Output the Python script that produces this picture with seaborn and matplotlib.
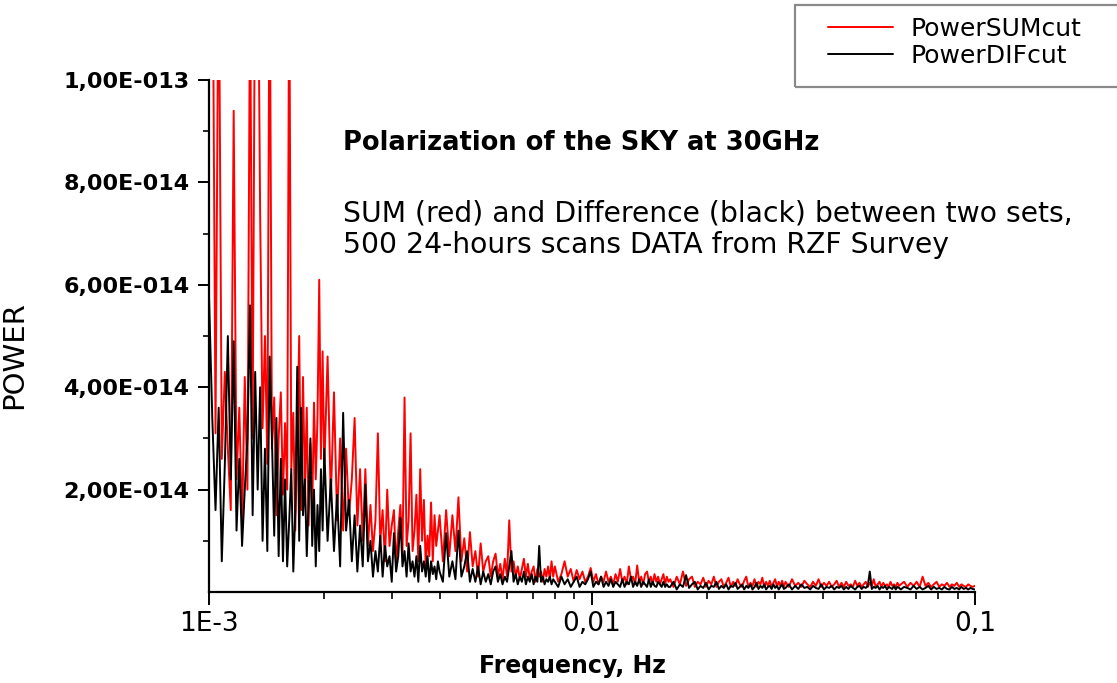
import matplotlib
matplotlib.use("Agg")
import matplotlib.pyplot as plt
from matplotlib.patches import Rectangle
from matplotlib.ticker import FuncFormatter, FixedLocator, LogLocator, NullFormatter
import numpy as np
import pandas as pd
import seaborn as sns

# Frequency bins (mHz) of the power spectra
FREQ_MHZ = [
    1.00, 1.02, 1.04, 1.06, 1.08, 1.10, 1.12, 1.14, 1.16, 1.18,
    1.20, 1.22, 1.24, 1.26, 1.28, 1.30, 1.32, 1.34, 1.36, 1.38,
    1.40, 1.42, 1.44, 1.46, 1.48, 1.50, 1.52, 1.54, 1.56, 1.58,
    1.60, 1.62, 1.64, 1.66, 1.68, 1.70, 1.72, 1.74, 1.76, 1.78,
    1.80, 1.82, 1.84, 1.86, 1.88, 1.90, 1.92, 1.94, 1.96, 1.98,
    2.00, 2.04, 2.08, 2.12, 2.16, 2.20, 2.24, 2.28, 2.32, 2.36,
    2.40, 2.44, 2.48, 2.52, 2.56, 2.60, 2.64, 2.68, 2.72, 2.76,
    2.80, 2.84, 2.88, 2.92, 2.96, 3.00, 3.04, 3.08, 3.12, 3.16,
    3.20, 3.24, 3.28, 3.32, 3.36, 3.40, 3.44, 3.48, 3.52, 3.56,
    3.60, 3.64, 3.68, 3.72, 3.76, 3.80, 3.84, 3.88, 3.92, 3.96,
    4.00, 4.08, 4.16, 4.24, 4.32, 4.40, 4.48, 4.56, 4.64, 4.72,
    4.80, 4.88, 4.96, 5.04, 5.12, 5.20, 5.28, 5.36, 5.44, 5.52,
    5.60, 5.68, 5.76, 5.84, 5.92, 6.00, 6.08, 6.16, 6.24, 6.32,
    6.40, 6.48, 6.56, 6.64, 6.72, 6.80, 6.88, 6.96, 7.04, 7.12,
    7.20, 7.28, 7.36, 7.44, 7.52, 7.60, 7.68, 7.76, 7.84, 7.92,
    8.00, 8.16, 8.32, 8.48, 8.64, 8.80, 8.96, 9.12, 9.28, 9.44,
    9.60, 9.76, 9.92, 10.08, 10.24, 10.40, 10.56, 10.72, 10.88, 11.04,
    11.20, 11.36, 11.52, 11.68, 11.84, 12.00, 12.16, 12.32, 12.48, 12.64,
    12.80, 12.96, 13.12, 13.28, 13.44, 13.60, 13.76, 13.92, 14.08, 14.24,
    14.40, 14.56, 14.72, 14.88, 15.04, 15.20, 15.36, 15.52, 15.68, 15.84,
    16.00, 16.32, 16.64, 16.96, 17.28, 17.60, 17.92, 18.24, 18.56, 18.88,
    19.20, 19.52, 19.84, 20.16, 20.48, 20.80, 21.12, 21.44, 21.76, 22.08,
    22.40, 22.72, 23.04, 23.36, 23.68, 24.00, 24.32, 24.64, 24.96, 25.28,
    25.60, 25.92, 26.24, 26.56, 26.88, 27.20, 27.52, 27.84, 28.16, 28.48,
    28.80, 29.12, 29.44, 29.76, 30.08, 30.40, 30.72, 31.04, 31.36, 31.68,
    32.00, 32.64, 33.28, 33.92, 34.56, 35.20, 35.84, 36.48, 37.12, 37.76,
    38.40, 39.04, 39.68, 40.32, 40.96, 41.60, 42.24, 42.88, 43.52, 44.16,
    44.80, 45.44, 46.08, 46.72, 47.36, 48.00, 48.64, 49.28, 49.92, 50.56,
    51.20, 51.84, 52.48, 53.12, 53.76, 54.40, 55.04, 55.68, 56.32, 56.96,
    57.60, 58.24, 58.88, 59.52, 60.16, 60.80, 61.44, 62.08, 62.72, 63.36,
    64.00, 65.28, 66.56, 67.84, 69.12, 70.40, 71.68, 72.96, 74.24, 75.52,
    76.80, 78.08, 79.36, 80.64, 81.92, 83.20, 84.48, 85.76, 87.04, 88.32,
    89.60, 90.88, 92.16, 93.44, 94.72, 96.00, 97.28, 98.56, 99.84,
]

# Power of the SUM of the two scan sets (units of 1e-14)
POWER_SUM = [
    11.0, 14.0, 3.1, 13.0, 2.6, 4.3, 2.8, 1.6, 9.4, 2.2,
    3.6, 1.3, 4.2, 2.0, 12.0, 3.0, 13.0, 13.5, 7.4, 3.2,
    5.0, 2.5, 13.0, 2.8, 3.8, 1.5, 3.0, 3.9, 1.9, 3.3,
    2.0, 12.5, 2.4, 3.5, 1.2, 3.0, 5.0, 1.6, 4.2, 2.0,
    3.6, 1.3, 2.9, 1.6, 3.7, 2.2, 3.4, 6.1, 2.6, 4.7,
    2.4, 4.6, 1.8, 3.9, 1.4, 3.0, 1.2, 2.8, 1.5, 2.2,
    3.4, 1.3, 2.4, 1.0, 2.4, 0.9, 1.7, 0.8, 1.4, 3.1,
    1.0, 1.6, 0.6, 2.0, 0.9, 1.3, 1.6, 0.5, 1.2, 1.7,
    0.7, 3.8, 0.9, 1.4, 3.1, 0.8, 1.2, 1.9, 0.6, 2.4,
    1.0, 1.8, 0.5, 1.1, 0.7, 1.75, 0.6, 1.5, 0.9, 1.2,
    1.5, 0.6, 1.6, 0.7, 1.5, 0.8, 1.85, 0.6, 1.05, 0.4,
    1.17, 0.5, 0.8, 0.3, 0.95, 0.4, 0.6, 0.7, 0.3, 0.6,
    0.75, 0.3, 0.55, 0.25, 0.65, 0.3, 1.4, 0.4, 0.6, 0.3,
    0.5, 0.25, 0.45, 0.65, 0.3, 0.55, 0.25, 0.4, 0.5, 0.2,
    0.45, 0.3, 0.4, 0.2, 0.45, 0.3, 0.5, 0.25, 0.6, 0.3,
    0.5, 0.2, 0.35, 0.6, 0.3, 0.45, 0.2, 0.43, 0.25, 0.4,
    0.2, 0.3, 0.47, 0.2, 0.35, 0.15, 0.3, 0.2, 0.4, 0.2,
    0.3, 0.15, 0.35, 0.2, 0.45, 0.2, 0.3, 0.15, 0.5, 0.25,
    0.3, 0.15, 0.52, 0.2, 0.3, 0.15, 0.35, 0.4, 0.2, 0.3,
    0.15, 0.35, 0.2, 0.3, 0.15, 0.25, 0.35, 0.15, 0.3, 0.2,
    0.25, 0.1, 0.3, 0.15, 0.4, 0.12, 0.25, 0.3, 0.1, 0.2,
    0.15, 0.28, 0.1, 0.22, 0.15, 0.3, 0.1, 0.2, 0.25, 0.1,
    0.18, 0.28, 0.1, 0.2, 0.12, 0.25, 0.15, 0.1, 0.22, 0.3,
    0.1, 0.18, 0.12, 0.25, 0.1, 0.2, 0.15, 0.28, 0.1, 0.2,
    0.12, 0.22, 0.1, 0.18, 0.25, 0.1, 0.2, 0.12, 0.22, 0.1,
    0.2, 0.1, 0.25, 0.12, 0.18, 0.1, 0.22, 0.15, 0.1, 0.2,
    0.12, 0.25, 0.1, 0.18, 0.12, 0.2, 0.1, 0.15, 0.22, 0.1,
    0.18, 0.1, 0.2, 0.12, 0.15, 0.1, 0.22, 0.12, 0.18, 0.1,
    0.15, 0.2, 0.1, 0.18, 0.12, 0.25, 0.1, 0.15, 0.2, 0.1,
    0.18, 0.12, 0.15, 0.1, 0.2, 0.12, 0.15, 0.1, 0.18, 0.12,
    0.15, 0.2, 0.1, 0.18, 0.12, 0.2, 0.1, 0.3, 0.12, 0.18,
    0.1, 0.15, 0.2, 0.1, 0.15, 0.12, 0.18, 0.1, 0.15, 0.12,
    0.18, 0.1, 0.15, 0.12, 0.1, 0.15, 0.12, 0.1, 0.12,
]

# Power of the DIFference of the two scan sets (units of 1e-14)
POWER_DIF = [
    5.8, 3.4, 1.6, 3.6, 0.6, 2.5, 5.0, 2.2, 4.9, 1.2,
    2.6, 0.9, 2.0, 3.0, 5.6, 1.5, 4.3, 2.0, 4.0, 1.0,
    2.8, 0.8, 4.6, 3.0, 1.1, 3.4, 0.7, 2.6, 0.6, 2.2,
    0.5, 1.4, 2.4, 0.4, 1.6, 4.4, 1.0, 3.6, 1.5, 2.2,
    0.7, 1.8, 3.0, 0.9, 2.0, 0.5, 1.7, 0.8, 2.4, 1.2,
    2.8, 1.0, 2.2, 0.8, 1.9, 0.5, 3.5, 1.2, 1.8, 0.6,
    1.5, 0.4, 1.3, 0.5, 2.1, 0.6, 1.0, 0.3, 0.8, 0.4,
    1.1, 0.3, 0.9, 0.5, 0.7, 0.2, 1.15, 0.4, 0.7, 1.45,
    0.5, 0.8, 0.3, 0.95, 0.4, 0.6, 0.3, 0.7, 0.2, 0.9,
    0.4, 0.6, 0.3, 0.7, 0.2, 0.6, 0.35, 0.5, 0.25, 0.6,
    0.4, 0.2, 1.15, 0.3, 0.6, 0.25, 1.2, 0.3, 0.5, 0.8,
    0.2, 0.45, 0.2, 0.5, 0.15, 0.4, 0.2, 0.35, 0.15, 0.4,
    0.5, 0.2, 0.35, 0.15, 0.3, 0.2, 0.5, 0.8, 0.2, 0.35,
    0.15, 0.3, 0.2, 0.4, 0.15, 0.3, 0.2, 0.35, 0.15, 0.3,
    0.2, 0.9, 0.2, 0.3, 0.15, 0.25, 0.2, 0.3, 0.15, 0.25,
    0.2, 0.1, 0.3, 0.15, 0.25, 0.1, 0.2, 0.3, 0.1, 0.2,
    0.15, 0.25, 0.4, 0.1, 0.2, 0.15, 0.3, 0.1, 0.2, 0.12,
    0.25, 0.1, 0.2, 0.15, 0.1, 0.25, 0.1, 0.2, 0.15, 0.3,
    0.1, 0.2, 0.12, 0.25, 0.1, 0.2, 0.15, 0.1, 0.25, 0.1,
    0.2, 0.12, 0.1, 0.2, 0.15, 0.1, 0.2, 0.1, 0.15, 0.1,
    0.1, 0.2, 0.05, 0.15, 0.1, 0.33, 0.08, 0.15, 0.2, 0.05,
    0.12, 0.08, 0.18, 0.05, 0.12, 0.1, 0.2, 0.06, 0.12, 0.08,
    0.15, 0.05, 0.12, 0.1, 0.18, 0.06, 0.1, 0.15, 0.05, 0.12,
    0.08, 0.15, 0.05, 0.1, 0.18, 0.06, 0.12, 0.08, 0.15, 0.05,
    0.1, 0.12, 0.06, 0.15, 0.08, 0.12, 0.05, 0.1, 0.15, 0.06,
    0.08, 0.15, 0.05, 0.12, 0.06, 0.15, 0.08, 0.1, 0.05, 0.12,
    0.08, 0.06, 0.15, 0.05, 0.1, 0.08, 0.12, 0.05, 0.1, 0.08,
    0.12, 0.05, 0.1, 0.06, 0.12, 0.08, 0.05, 0.1, 0.12, 0.06,
    0.1, 0.08, 0.12, 0.4, 0.06, 0.1, 0.08, 0.12, 0.05, 0.1,
    0.08, 0.12, 0.05, 0.1, 0.08, 0.06, 0.12, 0.05, 0.1, 0.08,
    0.05, 0.1, 0.08, 0.05, 0.12, 0.06, 0.1, 0.05, 0.08, 0.12,
    0.05, 0.1, 0.06, 0.08, 0.05, 0.1, 0.06, 0.05, 0.1, 0.06,
    0.08, 0.05, 0.1, 0.06, 0.08, 0.05, 0.08, 0.06, 0.05,
]

SERIES_NAMES = ["PowerSUMcut", "PowerDIFcut"]
SERIES_COLORS = {"PowerSUMcut": "#ff0000", "PowerDIFcut": "#000000"}

X_TICKS = [1e-3, 1e-2, 1e-1]
X_TICK_LABELS = ["1E-3", "0,01", "0,1"]
Y_MAJOR_TICKS = [2e-14, 4e-14, 6e-14, 8e-14, 1e-13]
Y_MINOR_TICKS = [1e-14, 3e-14, 5e-14, 7e-14, 9e-14]

TITLE = "Polarization of the SKY at 30GHz"
NOTE_LINES = ["SUM (red) and Difference (black) between two sets,",
              "500 24-hours scans DATA from RZF Survey"]

# Long-form table: frequency in Hz, power in absolute units
freq_hz = np.array(FREQ_MHZ) * 1e-3
df = pd.concat([
    pd.DataFrame({"Frequency": freq_hz, "Power": np.array(POWER_SUM) * 1e-14,
                  "Series": SERIES_NAMES[0]}),
    pd.DataFrame({"Frequency": freq_hz, "Power": np.array(POWER_DIF) * 1e-14,
                  "Series": SERIES_NAMES[1]}),
], ignore_index=True)

sns.set_theme(style="white")
plt.rcParams["font.family"] = ["DejaVu Sans"]
plt.rcParams["text.color"] = "black"
plt.rcParams["axes.labelcolor"] = "black"
plt.rcParams["xtick.color"] = "black"
plt.rcParams["ytick.color"] = "black"

fig = plt.figure(figsize=(11.17, 6.83), dpi=100)
ax = fig.add_axes([0.1871, 0.1332, 0.6858, 0.7496])

sns.lineplot(data=df, x="Frequency", y="Power", hue="Series",
             hue_order=SERIES_NAMES, palette=SERIES_COLORS,
             estimator=None, sort=False, linewidth=1.4, legend=False, ax=ax)

ax.set_xscale("log")
ax.set_xlim(1e-3, 1e-1)
ax.set_ylim(0, 1e-13)

# Axes frame: only left and bottom
for side in ("top", "right"):
    ax.spines[side].set_visible(False)
for side in ("left", "bottom"):
    ax.spines[side].set_color("black")
    ax.spines[side].set_linewidth(1.6)

# X axis ticks
ax.xaxis.set_major_locator(FixedLocator(X_TICKS))
ax.xaxis.set_major_formatter(FuncFormatter(
    lambda v, p: X_TICK_LABELS[X_TICKS.index(min(X_TICKS, key=lambda t: abs(np.log10(t) - np.log10(v))))]))
ax.xaxis.set_minor_locator(LogLocator(base=10, subs=np.arange(2, 10)))
ax.xaxis.set_minor_formatter(NullFormatter())

# Y axis ticks
def sci_comma(v, pos):
    if v <= 0:
        return ""
    exp = int(np.floor(np.log10(v) + 1e-9))
    mant = v / 10 ** exp
    return f"{mant:.2f}".replace(".", ",") + f"E-{abs(exp):03d}"

ax.yaxis.set_major_locator(FixedLocator(Y_MAJOR_TICKS))
ax.yaxis.set_major_formatter(FuncFormatter(sci_comma))
ax.yaxis.set_minor_locator(FixedLocator(Y_MINOR_TICKS))

ax.tick_params(axis="both", which="both", direction="out", color="black",
               labelcolor="black", bottom=True, left=True, top=False, right=False)
ax.tick_params(axis="x", which="major", length=9, width=1.4, pad=5, labelsize=19)
ax.tick_params(axis="x", which="minor", length=5, width=1.2)
ax.tick_params(axis="y", which="major", length=8, width=1.4, pad=6, labelsize=16)
ax.tick_params(axis="y", which="minor", length=4.5, width=1.2)
for lab in ax.get_yticklabels():
    lab.set_fontweight("bold")

ax.set_xlabel("Frequency, Hz", fontsize=17, fontweight="bold", color="black")
ax.xaxis.set_label_coords(0.474, -0.122)
ax.set_ylabel("POWER", fontsize=21, color="black")
ax.yaxis.set_label_coords(-0.236, 0.463)

# Annotation texts inside the plot area
fig.text(0.307, 0.7906, TITLE, fontsize=18.5, fontweight="bold",
         ha="left", va="center", color="black")
fig.text(0.307, 0.6881, NOTE_LINES[0], fontsize=20.3, ha="left", va="center",
         color="black")
fig.text(0.307, 0.6413, NOTE_LINES[1], fontsize=20.3, ha="left", va="center",
         color="black")

# Legend with a separate grey frame
fig.legend(handles=ax.lines[:2], labels=SERIES_NAMES, loc="upper left",
           bbox_to_anchor=(0.7413, 0.975), frameon=False, fontsize=18,
           borderpad=0, borderaxespad=0, handlelength=2.6,
           handletextpad=0.68, labelspacing=0.11, labelcolor="black")
fig.patches.append(Rectangle((0.7117, 0.8726), 0.2954, 0.12,
                             transform=fig.transFigure, fill=False,
                             edgecolor="#8a8a8a", linewidth=1.6,
                             clip_on=False))

fig.savefig("out.png", dpi=100)
